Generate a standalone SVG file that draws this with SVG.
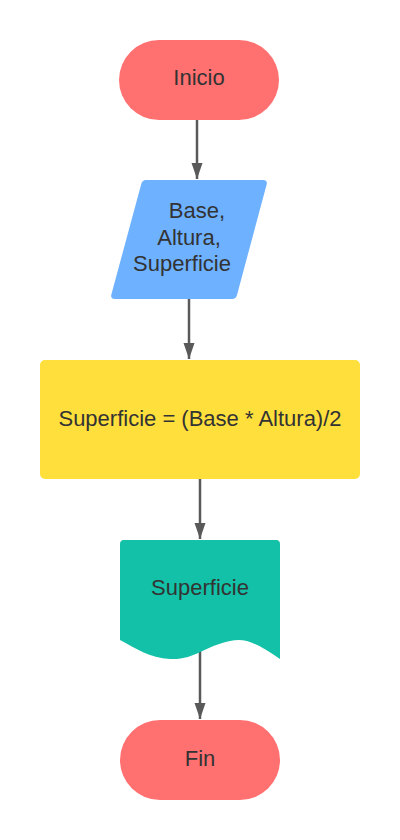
<svg xmlns="http://www.w3.org/2000/svg" width="400" height="840" viewBox="0 0 400 840">
<defs>
<marker id="arr" viewBox="0 0 16 12" refX="16" refY="6" markerWidth="16" markerHeight="12" markerUnits="userSpaceOnUse" orient="auto">
<path d="M0,0.5 L16,6 L0,11.5 Z" fill="#595959"/>
</marker>
<style>
.lbl{font-family:"Liberation Sans",Arial,sans-serif;font-size:22px;fill:#333333;text-anchor:middle;dominant-baseline:central}
.con{stroke:#595959;stroke-width:2.5;fill:none;marker-end:url(#arr)}
</style>
</defs>
<rect width="400" height="840" fill="#ffffff"/>
<g id="connectors">
<line class="con" x1="197" y1="120" x2="197" y2="179"/>
<line class="con" x1="189" y1="299" x2="189" y2="359"/>
<line class="con" x1="200" y1="479" x2="200" y2="539"/>
<line class="con" x1="200" y1="650" x2="200" y2="719"/>
</g>
<g id="inicio">
<rect x="119" y="40" width="160" height="80" rx="40" fill="#ff7070"/>
<text class="lbl" x="199" y="77">Inicio</text>
</g>
<g id="entrada">
<path d="M146,180 L263,180 Q268,180 266.5,185 L237,295 Q236,299 232,299 L115,299 Q110,299 111.5,294 L141,185 Q142,180 146,180 Z" fill="#6db1ff"/>
<text class="lbl" x="197" y="210">Base,</text>
<text class="lbl" x="189" y="237">Altura,</text>
<text class="lbl" x="182" y="263">Superficie</text>
</g>
<g id="proceso">
<rect x="40" y="360" width="320" height="119" rx="5" fill="#ffdf3c"/>
<text class="lbl" x="200" y="418">Superficie = (Base * Altura)/2</text>
</g>
<g id="salida">
<path d="M124,540 L276,540 Q280,540 280,544 L280,659 C255,642 245,638 230,641 C205,646 195,660 170,659 C150,658 135,648 120,640 L120,544 Q120,540 124,540 Z" fill="#12c1a7"/>
<text class="lbl" x="200" y="587">Superficie</text>
</g>
<g id="fin">
<rect x="120" y="720" width="160" height="80" rx="40" fill="#ff7070"/>
<text class="lbl" x="200" y="758">Fin</text>
</g>
</svg>
